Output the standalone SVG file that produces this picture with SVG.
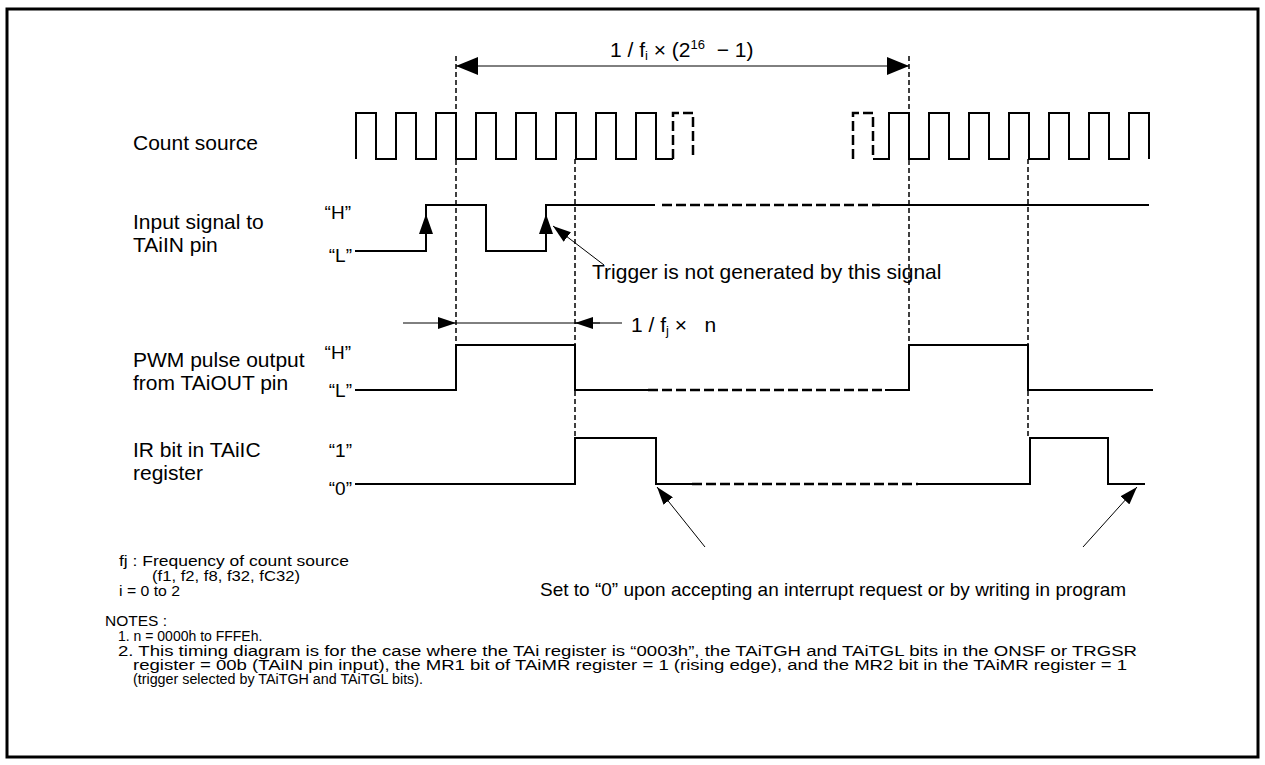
<svg xmlns="http://www.w3.org/2000/svg" width="1265" height="765" viewBox="0 0 1265 765">
<style>
text{font-family:"Liberation Sans",Arial,sans-serif;fill:#000}
.lbl{font-size:21px}
.lv{font-size:19px}
.pre{white-space:pre}
.wave{fill:none;stroke:#000;stroke-width:2}
.wdash{fill:none;stroke:#000;stroke-width:2.5;stroke-dasharray:10 4}
.guide{fill:none;stroke:#000;stroke-width:1.5;stroke-dasharray:5 3}
.thin{fill:none;stroke:#000;stroke-width:1}
.note{font-size:15px}
.nt{font-size:14px}
</style>
<defs>
<marker id="ah" viewBox="0 0 22 18" refX="22" refY="9" markerWidth="22" markerHeight="18" markerUnits="userSpaceOnUse" orient="auto">
<path d="M0,0 L22,9 L0,18 Z" fill="#000"/>
</marker>
<marker id="ahs" viewBox="0 0 18 12" refX="18" refY="6" markerWidth="18" markerHeight="12" markerUnits="userSpaceOnUse" orient="auto">
<path d="M0,0 L18,6 L0,12 Z" fill="#000"/>
</marker>
</defs>
<rect x="7" y="9" width="1251" height="748" fill="#fff" stroke="#000" stroke-width="3"/>

<g id="connectors">
<line class="guide" x1="456" y1="56" x2="456" y2="345"/>
<line class="guide" x1="909" y1="56" x2="909" y2="345"/>
<line class="guide" x1="575" y1="159" x2="575" y2="438"/>
<line class="guide" x1="1028" y1="159" x2="1028" y2="438"/>
<line class="thin" x1="480" y1="66" x2="456" y2="66" marker-end="url(#ah)"/>
<line class="thin" x1="880" y1="66" x2="909" y2="66" marker-end="url(#ah)"/>
<line class="thin" x1="480" y1="66" x2="880" y2="66"/>
<line class="thin" x1="403" y1="323" x2="456" y2="323" marker-end="url(#ahs)"/>
<line class="thin" x1="456" y1="323" x2="600" y2="323"/>
<line class="thin" x1="622" y1="323" x2="575" y2="323" marker-end="url(#ahs)"/>
<line class="thin" x1="604" y1="265" x2="553" y2="226" marker-end="url(#ahs)"/>
<line class="thin" x1="705" y1="547" x2="657" y2="487" marker-end="url(#ahs)"/>
<line class="thin" x1="1083" y1="547" x2="1137" y2="487" marker-end="url(#ahs)"/>
</g>

<g id="dimension">
<text class="lbl pre" x="610" y="57">1 / f<tspan font-size="13" dy="3">i</tspan><tspan dy="-3"> × (2</tspan><tspan font-size="13" dy="-8">16</tspan><tspan dy="8">  − 1)</tspan></text>
</g>

<g id="count-source">
<text class="lbl" x="133" y="150">Count source</text>
<path class="wave" d="M356,159 V113 H376 V159 H396 V113 H416 V159 H436 V113 H456 V159 H476 V113 H496 V159 H516 V113 H536 V159 H556 V113 H576 V159 H596 V113 H616 V159 H636 V113 H656 V159 H673"/>
<path class="wdash" d="M673,159 V113 H693 V159"/>
<path class="wdash" d="M853,159 V113 H873 V159"/>
<path class="wave" d="M873,159 H889 V113 H909 V159 H929 V113 H949 V159 H969 V113 H989 V159 H1009 V113 H1029 V159 H1049 V113 H1069 V159 H1089 V113 H1109 V159 H1129 V113 H1149 V159"/>
</g>

<g id="input-signal">
<text class="lbl" x="133" y="229">Input signal to</text>
<text class="lbl" x="133" y="252">TAiIN pin</text>
<text class="lv" x="351" y="219" text-anchor="end">“H”</text>
<text class="lv" x="352" y="262" text-anchor="end">“L”</text>
<path class="wave" d="M355,251 H426 V205 H486 V251 H546 V205 H655"/>
<path class="wdash" d="M662,205 H880"/>
<path class="wave" d="M880,205 H1149"/>
<path d="M426,214 L433,234 L419,234 Z" fill="#000"/>
<path d="M546,214 L553,234 L539,234 Z" fill="#000"/>
<text class="lbl" x="592" y="279">Trigger is not generated by this signal</text>
</g>

<g id="pwm-output">
<text class="lbl" x="133" y="367">PWM pulse output</text>
<text class="lbl" x="133" y="390">from TAiOUT pin</text>
<text class="lv" x="351" y="359" text-anchor="end">“H”</text>
<text class="lv" x="352" y="397" text-anchor="end">“L”</text>
<path class="wave" d="M355,390 H456 V345 H575 V390 H648"/>
<path class="wdash" d="M648,390 H885"/>
<path class="wave" d="M885,390 H909 V345 H1028 V390 H1153"/>
<text class="lbl pre" x="631" y="332">1 / f<tspan font-size="13" dy="3">j</tspan><tspan dy="-3"> ×   n</tspan></text>
</g>

<g id="ir-bit">
<text class="lbl" x="133" y="457">IR bit in TAiIC</text>
<text class="lbl" x="133" y="480">register</text>
<text class="lv" x="352" y="457" text-anchor="end">“1”</text>
<text class="lv" x="352" y="495" text-anchor="end">“0”</text>
<path class="wave" d="M355,484 H575 V438 H656 V484 H692"/>
<path class="wdash" d="M692,484 H918"/>
<path class="wave" d="M918,484 H1030 V438 H1108 V484 H1145"/>
<text class="lv" x="540" y="596">Set to “0” upon accepting an interrupt request or by writing in program</text>
</g>

<g id="notes">
<text class="note" x="119" y="566" textLength="230" lengthAdjust="spacingAndGlyphs">fj : Frequency of count source</text>
<text class="note" x="152" y="581" textLength="148" lengthAdjust="spacingAndGlyphs">(f1, f2, f8, f32, fC32)</text>
<text class="note" x="119" y="596" textLength="61" lengthAdjust="spacingAndGlyphs">i = 0 to 2</text>
<text class="nt" x="105" y="626" textLength="62" lengthAdjust="spacingAndGlyphs">NOTES :</text>
<text class="nt" x="118" y="641">1. n = 0000h to FFFEh.</text>
<text class="nt" x="118" y="656" textLength="1019" lengthAdjust="spacingAndGlyphs">2. This timing diagram is for the case where the TAi register is “0003h”, the TAiTGH and TAiTGL bits in the ONSF or TRGSR</text>
<text class="nt" x="133" y="670" textLength="994" lengthAdjust="spacingAndGlyphs">register = 00b (TAiIN pin input), the MR1 bit of TAiMR register = 1 (rising edge), and the MR2 bit in the TAiMR register = 1</text>
<text class="nt" x="133" y="684" textLength="290" lengthAdjust="spacingAndGlyphs">(trigger selected by TAiTGH and TAiTGL bits).</text>
</g>
</svg>
